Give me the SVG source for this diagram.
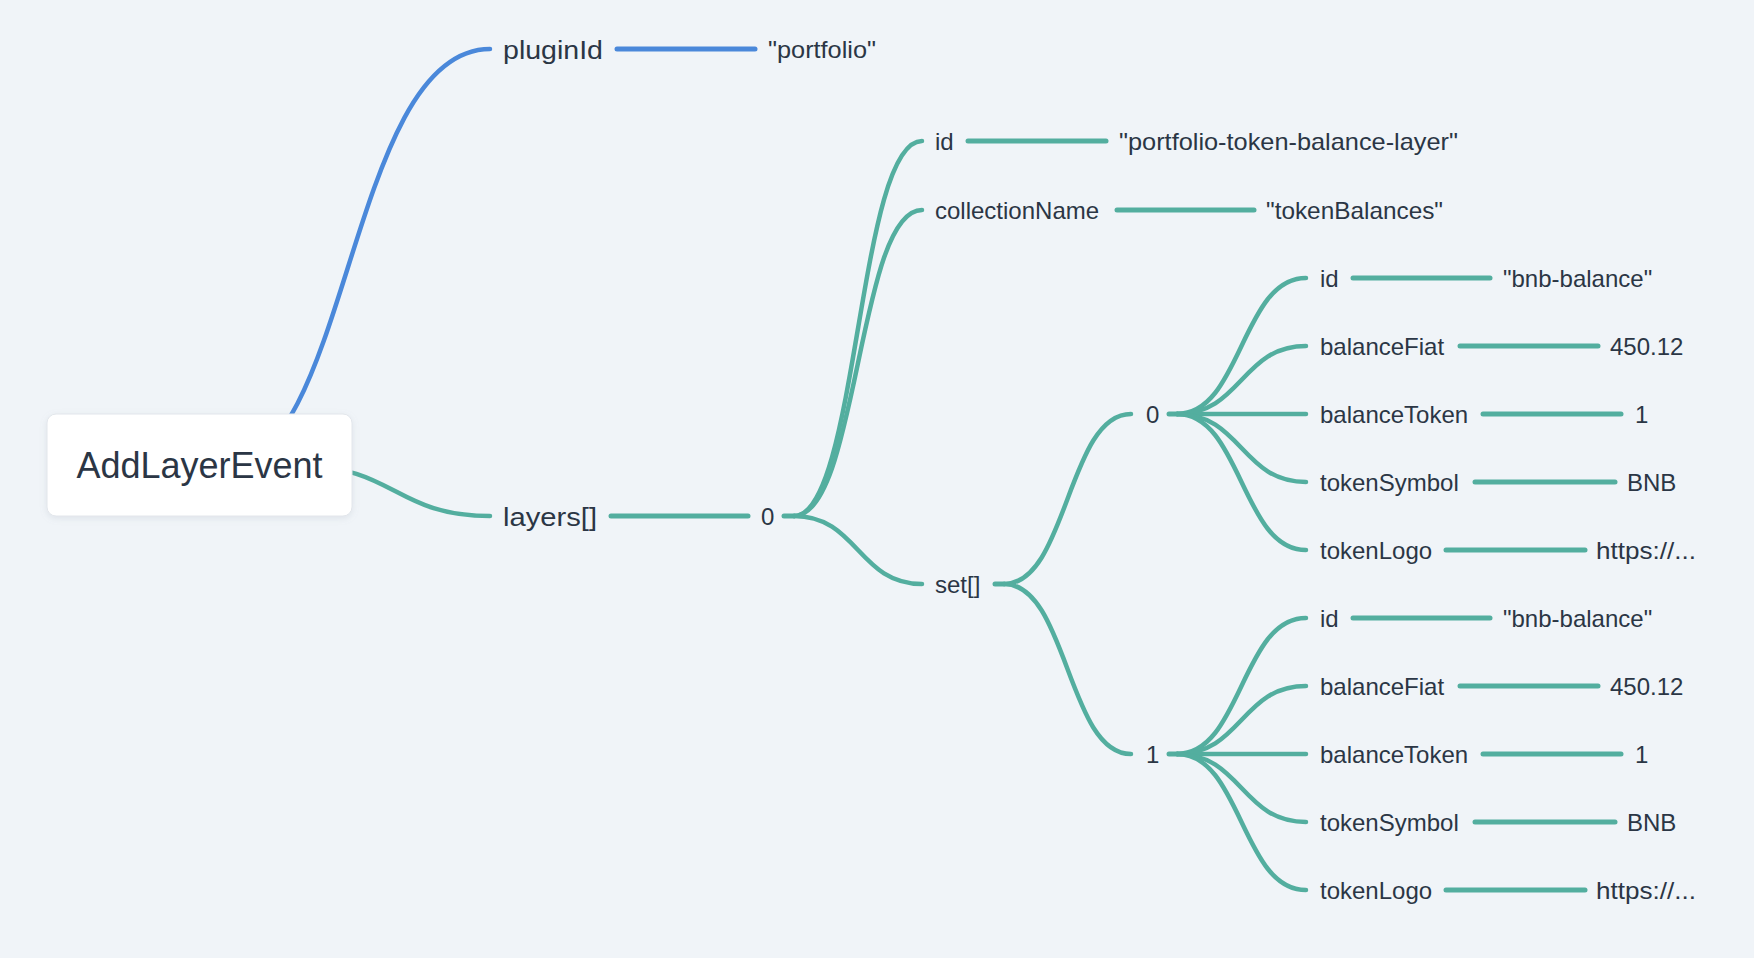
<svg xmlns="http://www.w3.org/2000/svg" width="1754" height="958" viewBox="0 0 1754 958">
<style>
.bg{fill:#F0F4F8}
.t{font-family:"Liberation Sans",Arial,sans-serif;font-size:24px;fill:#2B3645}
.t1{font-family:"Liberation Sans",Arial,sans-serif;font-size:26px;fill:#2B3645}
.root{font-family:"Liberation Sans",Arial,sans-serif;font-size:36px;fill:#2B3645}
.box{fill:#FFFFFF;stroke:#E2E6EB;stroke-width:1}
.c{fill:none;stroke:#53AE9F;stroke-width:4.5;stroke-linecap:round}
.h{fill:none;stroke:#53AE9F;stroke-width:5;stroke-linecap:round}
.cb{fill:none;stroke:#4A88DA;stroke-width:4.5;stroke-linecap:round}
.hb{fill:none;stroke:#4A88DA;stroke-width:5;stroke-linecap:round}
</style>
<defs>
<filter id="sh" x="-10%" y="-20%" width="120%" height="150%">
<feDropShadow dx="0" dy="2" stdDeviation="3" flood-color="#8A97A8" flood-opacity="0.18"/>
</filter>
</defs>
<rect class="bg" x="0" y="0" width="1754" height="958"/>
<g id="connectors">
<path class="cb" d="M227,464 C349,464 349,49 490,49"/>
<path class="hb" d="M617,49 H755"/>
<path class="c" d="M300,466 C395,466 395,516 490,516"/>
<path class="h" d="M611,516 H748"/>
<path class="h" d="M784,516 H794"/>
<path class="c" d="M794,516 C858,516 858,141 922,141"/>
<path class="c" d="M794,516 C858,516 858,210 922,210"/>
<path class="c" d="M794,516 C858,516 858,584 922,584"/>
<path class="h" d="M968,141 H1106"/>
<path class="h" d="M1117,210 H1254"/>
<path class="h" d="M995,584 H1004"/>
<path class="c" d="M1004,584 C1067.5,584 1067.5,414 1131,414"/>
<path class="c" d="M1004,584 C1067.5,584 1067.5,754 1131,754"/>
<path class="h" d="M1169,414 H1177"/>
<path class="c" d="M1177,414 C1241.5,414 1241.5,278 1306,278"/>
<path class="c" d="M1177,414 C1241.5,414 1241.5,346 1306,346"/>
<path class="c" d="M1177,414 H1306"/>
<path class="c" d="M1177,414 C1241.5,414 1241.5,482 1306,482"/>
<path class="c" d="M1177,414 C1241.5,414 1241.5,550 1306,550"/>
<path class="h" d="M1353,278 H1490"/>
<path class="h" d="M1460,346 H1598"/>
<path class="h" d="M1483,414 H1621"/>
<path class="h" d="M1475,482 H1615"/>
<path class="h" d="M1446,550 H1585"/>
<path class="h" d="M1169,754 H1177"/>
<path class="c" d="M1177,754 C1241.5,754 1241.5,618 1306,618"/>
<path class="c" d="M1177,754 C1241.5,754 1241.5,686 1306,686"/>
<path class="c" d="M1177,754 H1306"/>
<path class="c" d="M1177,754 C1241.5,754 1241.5,822 1306,822"/>
<path class="c" d="M1177,754 C1241.5,754 1241.5,890 1306,890"/>
<path class="h" d="M1353,618 H1490"/>
<path class="h" d="M1460,686 H1598"/>
<path class="h" d="M1483,754 H1621"/>
<path class="h" d="M1475,822 H1615"/>
<path class="h" d="M1446,890 H1585"/>
</g>
<g id="node-root">
<rect class="box" x="47" y="414" width="305" height="102" rx="9" filter="url(#sh)"/>
<text class="root" x="199.5" y="478" text-anchor="middle">AddLayerEvent</text>
</g>
<g id="node-pluginId"><text class="t1" x="503" y="58.5" textLength="100" lengthAdjust="spacingAndGlyphs">pluginId</text></g>
<g id="node-pluginId-value"><text class="t" x="768" y="58" textLength="108" lengthAdjust="spacingAndGlyphs">"portfolio"</text></g>
<g id="node-layers"><text class="t1" x="503" y="525.5" textLength="94" lengthAdjust="spacingAndGlyphs">layers[]</text></g>
<g id="node-layers-0"><text class="t" x="761" y="525">0</text></g>
<g id="node-id"><text class="t" x="935" y="150">id</text></g>
<g id="node-id-value"><text class="t" x="1119" y="150" textLength="339" lengthAdjust="spacingAndGlyphs">"portfolio-token-balance-layer"</text></g>
<g id="node-collectionName"><text class="t" x="935" y="219">collectionName</text></g>
<g id="node-collectionName-value"><text class="t" x="1266" y="219" textLength="177" lengthAdjust="spacingAndGlyphs">"tokenBalances"</text></g>
<g id="node-set"><text class="t" x="935" y="593">set[]</text></g>
<g id="node-set-0"><text class="t" x="1146" y="423">0</text></g>
<g id="node-set-0-id"><text class="t" x="1320" y="287">id</text><text class="t" x="1503" y="287">"bnb-balance"</text></g>
<g id="node-set-0-balanceFiat"><text class="t" x="1320" y="355">balanceFiat</text><text class="t" x="1610" y="355">450.12</text></g>
<g id="node-set-0-balanceToken"><text class="t" x="1320" y="423">balanceToken</text><text class="t" x="1635" y="423">1</text></g>
<g id="node-set-0-tokenSymbol"><text class="t" x="1320" y="491">tokenSymbol</text><text class="t" x="1627" y="491">BNB</text></g>
<g id="node-set-0-tokenLogo"><text class="t" x="1320" y="559">tokenLogo</text><text class="t" x="1596" y="559" textLength="100" lengthAdjust="spacingAndGlyphs">https://...</text></g>
<g id="node-set-1"><text class="t" x="1146" y="763">1</text></g>
<g id="node-set-1-id"><text class="t" x="1320" y="627">id</text><text class="t" x="1503" y="627">"bnb-balance"</text></g>
<g id="node-set-1-balanceFiat"><text class="t" x="1320" y="695">balanceFiat</text><text class="t" x="1610" y="695">450.12</text></g>
<g id="node-set-1-balanceToken"><text class="t" x="1320" y="763">balanceToken</text><text class="t" x="1635" y="763">1</text></g>
<g id="node-set-1-tokenSymbol"><text class="t" x="1320" y="831">tokenSymbol</text><text class="t" x="1627" y="831">BNB</text></g>
<g id="node-set-1-tokenLogo"><text class="t" x="1320" y="899">tokenLogo</text><text class="t" x="1596" y="899" textLength="100" lengthAdjust="spacingAndGlyphs">https://...</text></g>
</svg>
